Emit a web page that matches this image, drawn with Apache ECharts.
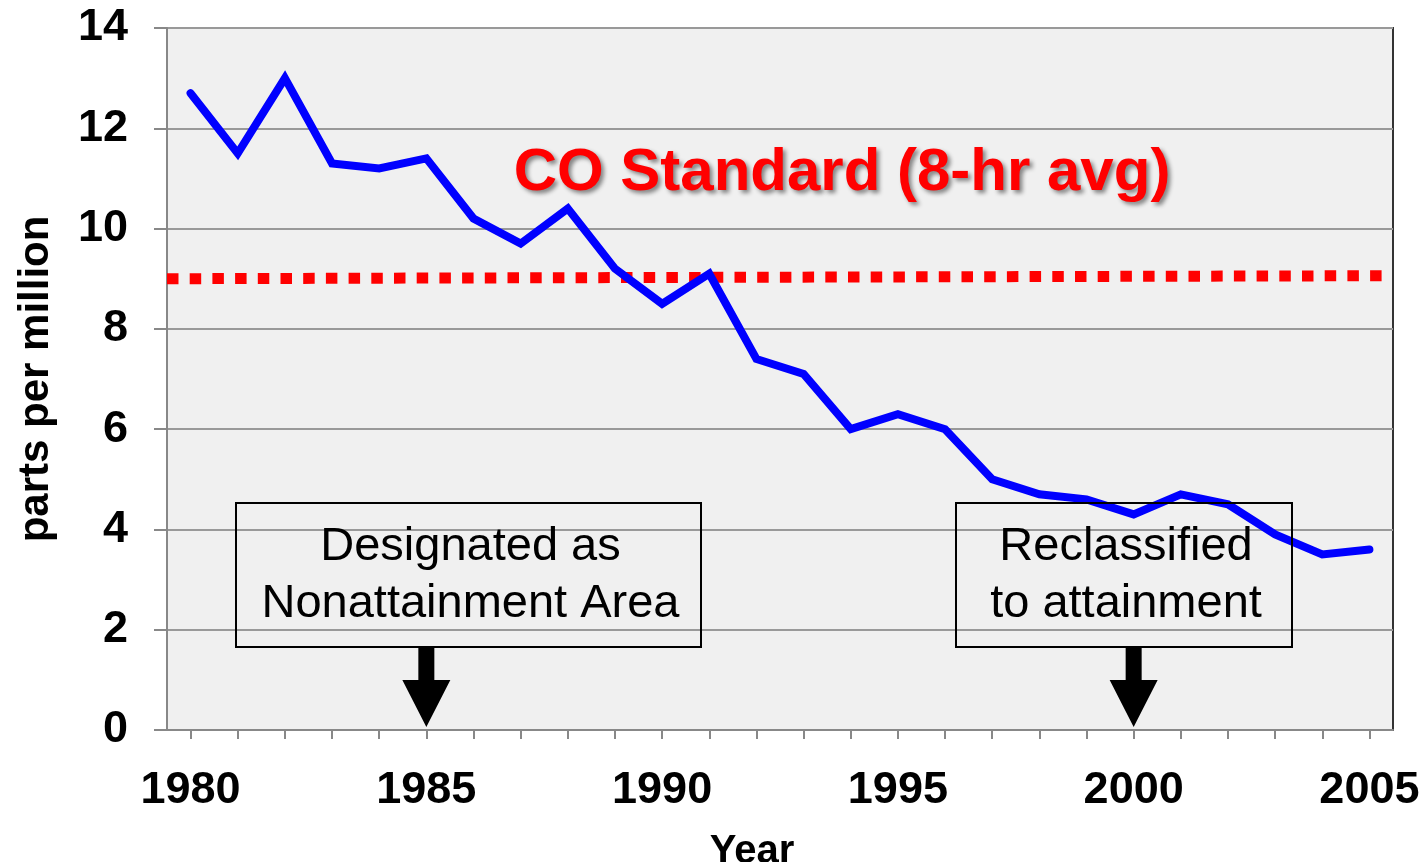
<!DOCTYPE html>
<html>
<head>
<meta charset="utf-8">
<script src="https://cdn.jsdelivr.net/npm/echarts@6/dist/echarts.min.js"></script>
<style>
html,body{margin:0;padding:0;background:#fff;}
#chart{width:1428px;height:862px;}
</style>
</head>
<body>
<div id="chart"></div>
<script>
// ---- data ----
const years = ['1980','1981','1982','1983','1984','1985','1986','1987','1988','1989','1990','1991','1992',
  '1993','1994','1995','1996','1997','1998','1999','2000','2001','2002','2003','2004','2005'];
const coValues = [12.7,11.5,13.0,11.3,11.2,11.4,10.2,9.7,10.4,9.2,8.5,9.1,7.4,
  7.1,6.0,6.3,6.0,5.0,4.7,4.6,4.3,4.7,4.5,3.9,3.5,3.6];
const standardLine = [[-0.5, 9.0], [25.3, 9.06]];
const standardLabel = 'CO Standard (8-hr avg)';
const yMin = 0, yMax = 14, yInterval = 2;
const annotationYears = ['1985', '2000'];
const annotationTexts = ['Designated as\nNonattainment Area', 'Reclassified\nto attainment'];

const FONT = '"Liberation Sans", Arial, sans-serif';
const chart = echarts.init(document.getElementById('chart'), null, {renderer:'canvas'});

const option = {
  animation: false,
  backgroundColor: '#ffffff',
  grid: {
    left: 167, right: 35, top: 28, bottom: 132,
    containLabel: false, outerBoundsMode: 'none',
    show: true, backgroundColor: '#f0f0f0', borderColor: '#333333', borderWidth: 2
  },
  xAxis: [{
    type: 'category',
    data: years,
    boundaryGap: true,
    name: 'Year',
    nameLocation: 'middle',
    nameGap: 102,
    nameTextStyle: {fontFamily: FONT, fontWeight: 'bold', fontSize: 40, color: '#000', padding: [0, 56, 0, 0]},
    axisLine: {onZero: false, lineStyle: {color: '#888888', width: 2}},
    axisTick: {show: true, alignWithLabel: true, interval: 0, length: 9, lineStyle: {color: '#888888', width: 2}},
    axisLabel: {interval: 4, margin: 38, fontFamily: FONT, fontWeight: 'bold', fontSize: 45, color: '#000'},
    splitLine: {show: false}
  }, {
    type: 'value', min: -0.5, max: 25.5, show: false,
    axisLine: {onZero: false}, splitLine: {show: false}
  }],
  yAxis: {
    type: 'value',
    min: yMin, max: yMax, interval: yInterval,
    name: 'parts per million',
    nameLocation: 'middle',
    nameGap: 110,
    nameRotate: 90,
    nameTextStyle: {fontFamily: FONT, fontWeight: 'bold', fontSize: 42, color: '#000'},
    axisLine: {show: true, onZero: false, lineStyle: {color: '#888888', width: 2}},
    axisTick: {show: true, inside: false, length: 13, lineStyle: {color: '#888888', width: 2}},
    axisLabel: {margin: 39, fontFamily: FONT, fontWeight: 'bold', fontSize: 45, color: '#000'},
    splitLine: {show: true, lineStyle: {color: '#999999', width: 2}}
  },
  series: [{
    name: 'standard',
    type: 'line',
    xAxisIndex: 1,
    data: standardLine,
    symbol: 'none',
    lineStyle: {color: '#ff0000', width: 11, type: [11.5, 11.2], cap: 'butt'},
    z: 2
  }, {
    name: 'CO',
    type: 'line',
    xAxisIndex: 0,
    data: coValues,
    symbol: 'none',
    lineStyle: {color: '#0000ff', width: 8, cap: 'round', join: 'miter'},
    z: 3
  }]
};
chart.setOption(option);

// annotations: boxes, arrows and title text
const boxes = [
  {x: 236, y: 503, w: 465, h: 144},
  {x: 956, y: 503, w: 336, h: 144}
];
const graphics = [];
const yBase = chart.convertToPixel({yAxisIndex: 0}, 0);
annotationYears.forEach(function (yr, i) {
  const b = boxes[i];
  graphics.push({
    type: 'rect', z: 10,
    shape: {x: b.x, y: b.y, width: b.w, height: b.h},
    style: {fill: 'rgba(0,0,0,0)', stroke: '#000', lineWidth: 2}
  });
  graphics.push({
    type: 'text', z: 11,
    x: b.x + b.w / 2 + 2, y: b.y + b.h / 2 + 1,
    style: {text: annotationTexts[i], fill: '#000', font: 'normal 47px ' + FONT,
      align: 'center', verticalAlign: 'middle', lineHeight: 57}
  });
  const ax = chart.convertToPixel({xAxisIndex: 0}, yr);
  const top = b.y + b.h;
  graphics.push({
    type: 'polygon', z: 10,
    shape: {points: [
      [ax - 8, top], [ax + 8, top], [ax + 8, 680], [ax + 24, 680],
      [ax, yBase - 3], [ax - 24, 680], [ax - 8, 680]
    ]},
    style: {fill: '#000'}
  });
});
graphics.push({
  type: 'text', z: 12,
  x: 842, y: 173,
  style: {text: standardLabel, fill: '#ff0000', font: 'bold 60px ' + FONT,
    align: 'center', verticalAlign: 'middle',
    textShadowColor: 'rgba(0,0,0,0.45)', textShadowBlur: 4, textShadowOffsetX: 3, textShadowOffsetY: 3}
});
chart.setOption({graphic: graphics});
</script>
</body>
</html>
